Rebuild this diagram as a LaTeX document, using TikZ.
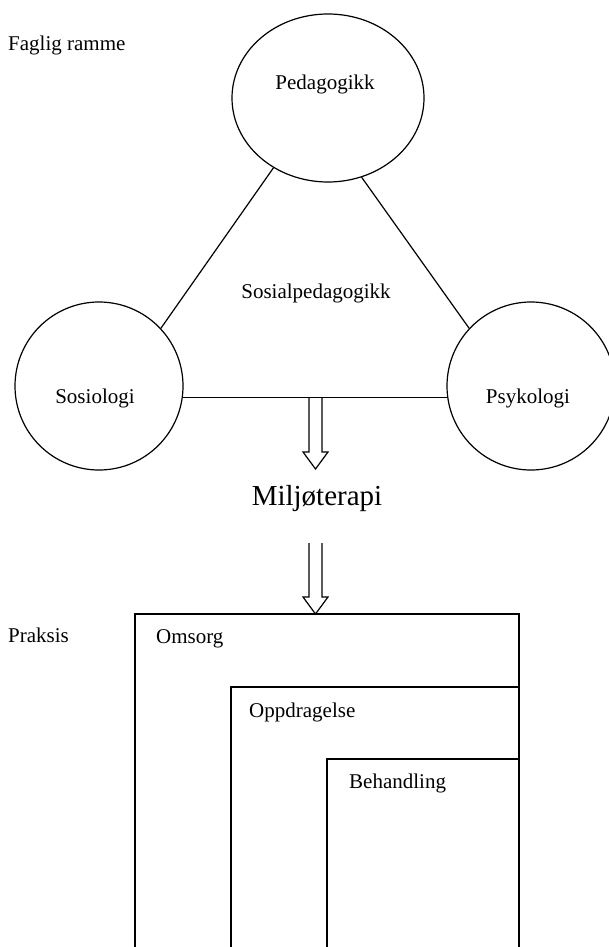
\documentclass[tikz,border=0pt]{standalone}
\usepackage{fontspec}
\setmainfont{Liberation Serif}
\usetikzlibrary{shapes.geometric,calc}
\begin{document}
\begin{tikzpicture}[x=1pt,y=-1pt,
  every node/.style={font=\fontsize{21}{25}\selectfont, inner sep=0pt},
  disc/.style={circle, draw, line width=1.2pt, minimum size=168pt},
  oval/.style={ellipse, draw, line width=1.2pt, minimum width=192pt, minimum height=168pt},
  link/.style={line width=1.2pt},
  hollow/.style={line width=1.2pt, fill=white, line join=miter},
  frame/.style={line width=1.3pt},
  lbl/.style={anchor=base west},
  ctr/.style={anchor=base}]
\useasboundingbox (0,0) rectangle (608,947);
\fill[white] (0,0) rectangle (608,947);

% circles
\node[oval] (ped) at (328,98) {};
\node[disc] (sos) at (99,386) {};
\node[disc] (psy) at (531,386) {};

% labels
\node[lbl] (faglig) at (8,51) {Faglig ramme};
\node[ctr] (pedt) at (325,90) {Pedagogikk};
\node[ctr] (sost) at (95,403) {Sosiologi};
\node[ctr] (psyt) at (528,403) {Psykologi};
\node[ctr] (spt) at (316,298) {Sosialpedagogikk};
\node[ctr, font=\fontsize{29}{34}\selectfont] (milj) at (317,505) {Milj\o terapi};

% triangle connectors
\draw[link] (ped.232) -- (sos.43);
\draw[link] (ped.293) -- (psy.137);
\draw[link] (sos.-8.2) -- (psy.188.2);

% hollow arrows
\coordinate (a1) at (315.5,398);
\coordinate (a2) at (315.5,543);
\draw[hollow] ($(a1)+(-6.5,0)$) -- ++(0,54) -- ++(-6,0) -- ($(a1)+(0,71)$) -- ($(a1)+(12.5,54)$) -- ($(a1)+(6.5,54)$) -- ($(a1)+(6.5,0)$);
\draw[hollow] ($(a2)+(-6.5,0)$) -- ++(0,54) -- ++(-6,0) -- ($(a2)+(0,71)$) -- ($(a2)+(12.5,54)$) -- ($(a2)+(6.5,54)$) -- ($(a2)+(6.5,0)$);

% praxis boxes
\node[lbl] (praksis) at (8,642) {Praksis};
\draw[frame] (135,950) -- (135,614) -- (519,614) -- (519,950);
\draw[frame] (231,950) -- (231,687) -- (519,687);
\draw[frame] (327,950) -- (327,759) -- (519,759);
\node[lbl] (omsorg) at (156,643) {Omsorg};
\node[lbl] (oppdr) at (249,717) {Oppdragelse};
\node[lbl] (behand) at (349,788) {Behandling};
\end{tikzpicture}
\end{document}
